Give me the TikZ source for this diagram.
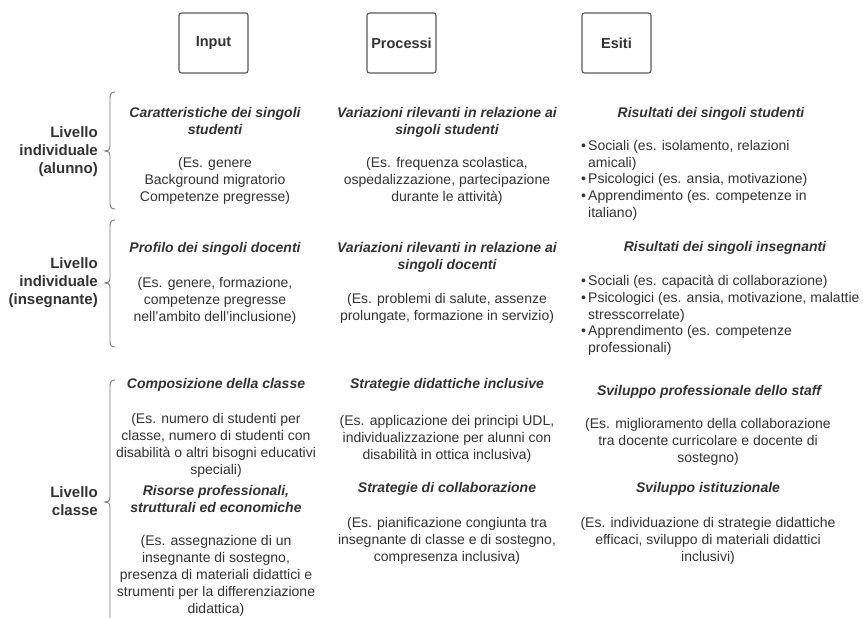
\documentclass[tikz,border=0pt]{standalone}
\usepackage{fontspec}
\setmainfont{Liberation Sans}
\definecolor{ink}{HTML}{333333}
\definecolor{frame}{HTML}{5A5A5A}
\definecolor{bracegray}{HTML}{777777}
\newcommand{\itm}{\makebox[7pt][l]{\textbullet}}
\newcommand{\cnt}{\hspace*{7pt}}
\begin{document}
\begin{tikzpicture}[x=1pt,y=-1pt,
  txt/.style={inner sep=0pt, anchor=north, align=center, text=ink,
    font=\fontsize{14}{17}\selectfont},
  ttl/.style={txt, font=\fontsize{14}{17}\selectfont\bfseries\itshape},
  bul/.style={inner sep=0pt, anchor=north west, align=left, text=ink,
    font=\fontsize{14}{16.8}\selectfont},
  lvl/.style={inner sep=0pt, anchor=north east, align=right, text=ink,
    font=\fontsize{15}{18}\selectfont\bfseries},
  head/.style={draw=frame, line width=1.1pt, rounded corners=2.5pt, fill=white,
    minimum width=69pt, minimum height=60pt, inner sep=0pt, text=ink,
    font=\fontsize{14.5}{17}\selectfont\bfseries},
  brace/.style={draw=bracegray, line width=0.9pt}]

\fill[white] (0,0) rectangle (863,618);
\useasboundingbox (0,0) rectangle (863,618);

% column headers
\node[head] (hin) at (213.5,43) {Input};
\node[head] (hpr) at (401.5,43) {Processi};
\node[head] (hes) at (616.5,43) {Esiti};

% level labels
\node[lvl] (lv1) at (98,126.5) {Livello\\individuale\\(alunno)};
\node[lvl] (lv2) at (98,257.5) {Livello\\individuale\\(insegnante)};
\node[lvl] (lv3) at (98,486.5) {Livello\\classe};

% braces: top, tip, bottom
\coordinate (b1) at (110,92);  \coordinate (t1) at (105,151); \coordinate (e1) at (110,209);
\coordinate (b2) at (110,220); \coordinate (t2) at (105,283); \coordinate (e2) at (110,347);
\coordinate (b3) at (110,380); \coordinate (t3) at (105,502);

\draw[brace] (115,92) .. controls (111,92) and (110,94) .. (110,98)
  -- (110,146) .. controls (110,150) and (108,151) .. (t1)
  .. controls (108,151) and (110,152) .. (110,156)
  -- (110,203) .. controls (110,207) and (111,209) .. (115,209);
\draw[brace] (115,220) .. controls (111,220) and (110,222) .. (110,226)
  -- (110,278) .. controls (110,282) and (108,283) .. (t2)
  .. controls (108,283) and (110,284) .. (110,288)
  -- (110,341) .. controls (110,345) and (111,347) .. (115,347);
\draw[brace] (115,380) .. controls (111,380) and (110,382) .. (110,386)
  -- (110,497) .. controls (110,501) and (108,502) .. (t3)
  .. controls (108,502) and (110,503) .. (110,507)
  -- (110,625);

% Input column
\node[ttl] (in1t) at (215,107) {Caratteristiche dei singoli\\studenti};
\node[txt] (in1b) at (215,157) {(Es. genere\\Background migratorio\\Competenze pregresse)};
\node[ttl] (in2t) at (215,242) {Profilo dei singoli docenti};
\node[txt] (in2b) at (215,277) {(Es. genere, formazione,\\competenze pregresse\\nell'ambito dell'inclusione)};
\node[ttl] (in3t) at (216,378) {Composizione della classe};
\node[txt] (in3b) at (216,413) {(Es. numero di studenti per\\classe, numero di studenti con\\disabilità o altri bisogni educativi\\speciali)};
\node[ttl] (in3c) at (216,485) {Risorse professionali,\\strutturali ed economiche};
\node[txt] (in3d) at (216,535) {(Es. assegnazione di un\\insegnante di sostegno,\\presenza di materiali didattici e\\strumenti per la differenziazione\\didattica)};

% Processi column
\node[ttl] (pr1t) at (447,107) {Variazioni rilevanti in relazione ai\\singoli studenti};
\node[txt] (pr1b) at (447,157) {(Es. frequenza scolastica,\\ospedalizzazione, partecipazione\\durante le attività)};
\node[ttl] (pr2t) at (447,242) {Variazioni rilevanti in relazione ai\\singoli docenti};
\node[txt] (pr2b) at (447,293) {(Es. problemi di salute, assenze\\prolungate, formazione in servizio)};
\node[ttl] (pr3t) at (447,378) {Strategie didattiche inclusive};
\node[txt] (pr3b) at (447,415) {(Es. applicazione dei principi UDL,\\individualizzazione per alunni con\\disabilità in ottica inclusiva)};
\node[ttl] (pr3c) at (447,482) {Strategie di collaborazione};
\node[txt] (pr3d) at (447,517) {(Es. pianificazione congiunta tra\\insegnante di classe e di sostegno,\\compresenza inclusiva)};

% Esiti column
\node[ttl] (es1t) at (711,107) {Risultati dei singoli studenti};
\node[bul] (es1b) at (581,140) {\itm Sociali (es. isolamento, relazioni\\
  \cnt amicali)\\
  \itm Psicologici (es. ansia, motivazione)\\
  \itm Apprendimento (es. competenze in\\
  \cnt italiano)};
\node[ttl] (es2t) at (725,241) {Risultati dei singoli insegnanti};
\node[bul] (es2b) at (581,275) {\itm Sociali (es. capacità di collaborazione)\\
  \itm Psicologici (es. ansia, motivazione, malattie\\
  \cnt stresscorrelate)\\
  \itm Apprendimento (es. competenze\\
  \cnt professionali)};
\node[ttl] (es3t) at (709,385) {Sviluppo professionale dello staff};
\node[txt] (es3b) at (708,418) {(Es. miglioramento della collaborazione\\tra docente curricolare e docente di\\sostegno)};
\node[ttl] (es3c) at (708,482) {Sviluppo istituzionale};
\node[txt] (es3d) at (708,517) {(Es. individuazione di strategie didattiche\\efficaci, sviluppo di materiali didattici\\inclusivi)};

\end{tikzpicture}
\end{document}
